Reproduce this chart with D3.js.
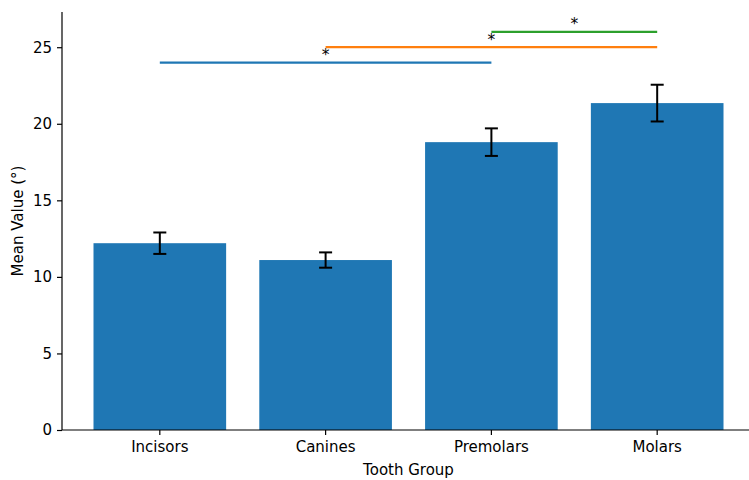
<!DOCTYPE html>
<html>
<head>
<meta charset="utf-8">
<script src="https://cdn.jsdelivr.net/npm/d3@7"></script>
<style>
  html, body { margin: 0; padding: 0; background: #fff; }
  svg { display: block; }
  text { font-family: "DejaVu Sans", sans-serif; fill: #000; }
</style>
</head>
<body>
<svg id="chart" width="749" height="480"></svg>
<script>
// Mean values per tooth group with their error (±)
const groups = ["Incisors", "Canines", "Premolars", "Molars"];
const means = [12.2, 11.1, 18.8, 21.35];
const errors = [0.7, 0.5, 0.9, 1.2];
const yTicks = [0, 5, 10, 15, 20, 25];

// Significance brackets: pair of groups, bar height and label
const sigFrom = ["Incisors", "Canines", "Premolars"];
const sigTo = ["Premolars", "Molars", "Molars"];
const sigLevel = [24, 25, 26];
const sigLabel = ["*", "*", "*"];
const sigColor = ["#1f77b4", "#ff7f0e", "#2ca02c"];

const plot = { left: 62, right: 755, top: 12, bottom: 430 };
const fontSize = 15;

const svg = d3.select("#chart");

const x = d3.scaleBand()
  .domain(groups)
  .range([plot.left, plot.right])
  .paddingInner(0.2)
  .paddingOuter(0.19);

const y = d3.scaleLinear()
  .domain([0, 27.3])
  .range([plot.bottom, plot.top]);

const cx = g => x(g) + x.bandwidth() / 2;

// bars
svg.append("g")
  .selectAll("rect")
  .data(groups)
  .join("rect")
  .attr("x", d => x(d))
  .attr("width", x.bandwidth())
  .attr("y", (d, i) => y(means[i]))
  .attr("height", (d, i) => y(0) - y(means[i]))
  .attr("fill", "#1f77b4");

// error bars
const eb = svg.append("g").attr("stroke", "#000").attr("stroke-width", 2);
groups.forEach((g, i) => {
  const c = cx(g);
  const hi = y(means[i] + errors[i]);
  const lo = y(means[i] - errors[i]);
  eb.append("line").attr("x1", c).attr("x2", c).attr("y1", hi).attr("y2", lo);
  eb.append("line").attr("x1", c - 6.5).attr("x2", c + 6.5).attr("y1", hi).attr("y2", hi);
  eb.append("line").attr("x1", c - 6.5).attr("x2", c + 6.5).attr("y1", lo).attr("y2", lo);
});

// significance lines with labels
const sig = svg.append("g");
sigFrom.forEach((a, i) => {
  const x1 = cx(a), x2 = cx(sigTo[i]);
  const yy = y(sigLevel[i]);
  sig.append("line")
    .attr("x1", x1).attr("x2", x2)
    .attr("y1", yy).attr("y2", yy)
    .attr("stroke", sigColor[i])
    .attr("stroke-width", 2.2);
  sig.append("text")
    .attr("x", (x1 + x2) / 2)
    .attr("y", yy - 2.5)
    .attr("text-anchor", "middle")
    .attr("font-size", 15.5)
    .text(sigLabel[i]);
});

// y axis
const yAxis = svg.append("g")
  .attr("transform", `translate(${plot.left},0)`)
  .call(d3.axisLeft(y).tickValues(yTicks).tickSize(5).tickPadding(5).tickFormat(d3.format("d")));
yAxis.select(".domain").attr("d", `M0,${plot.top}V${plot.bottom}`).attr("stroke", "#000").attr("stroke-width", 1.2);
yAxis.selectAll(".tick line").attr("stroke", "#000").attr("stroke-width", 1.2);
yAxis.selectAll(".tick text").attr("font-size", fontSize).attr("font-family", "DejaVu Sans");

// x axis
const xAxis = svg.append("g")
  .attr("transform", `translate(0,${plot.bottom})`)
  .call(d3.axisBottom(x).tickSize(5).tickPadding(6));
xAxis.select(".domain").attr("d", `M${plot.left},0H${plot.right}`).attr("stroke", "#000").attr("stroke-width", 1.2);
xAxis.selectAll(".tick line").attr("stroke", "#000").attr("stroke-width", 1.2);
xAxis.selectAll(".tick text").attr("font-size", fontSize).attr("font-family", "DejaVu Sans");

// axis titles
svg.append("text")
  .attr("x", (plot.left + plot.right) / 2)
  .attr("y", 475)
  .attr("text-anchor", "middle")
  .attr("font-size", fontSize)
  .text("Tooth Group");

svg.append("text")
  .attr("transform", `translate(23,${(plot.top + plot.bottom) / 2}) rotate(-90)`)
  .attr("text-anchor", "middle")
  .attr("font-size", fontSize)
  .text("Mean Value (°)");
</script>
</body>
</html>
